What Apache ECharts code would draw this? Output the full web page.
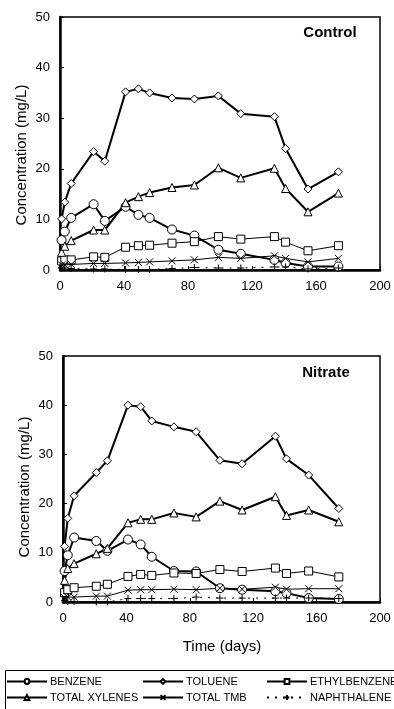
<!DOCTYPE html>
<html>
<head>
<meta charset="utf-8">
<script src="https://cdn.jsdelivr.net/npm/echarts@6/dist/echarts.min.js"></script>
<style>
  html, body { margin: 0; padding: 0; background: #fff; }
  #chart { width: 394px; height: 709px; }
</style>
</head>
<body>
<div id="chart"></div>
<script>
// sampling days (same for both columns)
var days = [1, 3, 7, 21, 28, 41, 49, 56, 70, 84, 99, 113, 134, 141, 155, 174];

// Control
var benzeneControl = [5.9, 7.6, 10.3, 13.0, 9.7, 12.5, 10.9, 10.3, 8.0, 6.8, 4.0, 3.2, 2.0, 1.4, 0.7, 0.7];
var tolueneControl = [10.1, 13.4, 17.1, 23.4, 21.5, 35.2, 35.8, 35.0, 34.0, 33.8, 34.4, 30.9, 30.3, 24.0, 16.0, 19.4];
var ethylControl = [1.8, 2.0, 2.0, 2.6, 2.5, 4.5, 4.8, 4.9, 5.3, 5.6, 6.6, 6.1, 6.6, 5.5, 3.8, 4.8];
var xylenesControl = [3.5, 4.7, 5.8, 7.9, 7.9, 13.3, 14.5, 15.3, 16.3, 16.8, 20.2, 18.2, 20.1, 16.1, 11.5, 15.2];
var tmbControl = [1.0, 1.0, 1.1, 1.3, 1.3, 1.4, 1.5, 1.6, 1.8, 2.0, 2.5, 2.3, 2.8, 2.3, 1.6, 2.3];
var naphControl = [0.4, 0.4, 0.3, 0.2, 0.2, 0.1, 0.1, 0.1, 0.3, 0.5, 0.4, 0.4, 0.6, 0.6, 0.2, 0.4];

// Nitrate
var benzeneNitrate = [6.3, 9.5, 13.1, 12.4, 10.4, 12.7, 11.7, 9.2, 6.3, 6.2, 2.8, 2.5, 2.2, 1.8, 0.8, 0.6];
var tolueneNitrate = [11.3, 17.0, 21.6, 26.3, 28.7, 40.0, 39.7, 36.8, 35.6, 34.6, 28.8, 28.1, 33.7, 29.1, 25.8, 19.0];
var ethylNitrate = [1.9, 2.5, 2.9, 3.2, 3.6, 5.2, 5.6, 5.4, 5.9, 5.8, 6.6, 6.2, 6.9, 5.8, 6.3, 5.1];
var xylenesNitrate = [4.4, 6.8, 7.8, 9.8, 10.9, 16.1, 16.8, 16.8, 18.1, 17.3, 20.5, 18.7, 21.4, 17.6, 18.7, 16.3];
var tmbNitrate = [0.9, 1.0, 1.0, 1.2, 1.2, 2.4, 2.5, 2.5, 2.6, 2.5, 2.8, 2.6, 3.0, 2.6, 2.7, 2.7];
var naphNitrate = [0.3, 0.1, 0.1, 0, 0, 0.7, 0.7, 0.7, 0.7, 1.0, 0.8, 0.8, 0.8, 0.8, 0.8, 0.7];

var xTicks = [0, 40, 80, 120, 160, 200];
var names = ['BENZENE', 'TOLUENE', 'ETHYLBENZENE', 'TOTAL XYLENES', 'TOTAL TMB', 'NAPHTHALENE'];

var font = 'Liberation Sans, Arial, sans-serif';
var chart = echarts.init(document.getElementById('chart'));

function pairs(vals) {
  return days.map(function (d, i) { return [d, vals[i]]; });
}

var looks = {
  'BENZENE': { symbol: 'circle', size: 9, width: 2, fill: '#fff', type: 'solid' },
  'TOLUENE': { symbol: 'diamond', size: 8, width: 2, fill: '#fff', type: 'solid' },
  'ETHYLBENZENE': { symbol: 'rect', size: 8, width: 1, fill: '#fff', type: 'solid' },
  'TOTAL XYLENES': { symbol: 'triangle', size: 8, width: 2, fill: '#fff', type: 'solid' },
  'TOTAL TMB': { symbol: 'path://M0,0L1,1M1,0L0,1', size: 7, width: 1, fill: '#000', type: 'solid' },
  'NAPHTHALENE': { symbol: 'path://M0.5,0L0.5,1M0,0.5L1,0.5', size: 7, width: 1, fill: '#000', type: [2, 6] }
};

function makeSeries(idx, sets) {
  return names.map(function (n, k) {
    var lk = looks[n];
    return {
      name: n,
      type: 'line',
      xAxisIndex: idx,
      yAxisIndex: idx,
      data: pairs(sets[k]),
      symbol: lk.symbol,
      symbolSize: lk.size,
      showAllSymbol: true,
      lineStyle: { color: '#000', width: lk.width, type: lk.type },
      itemStyle: { color: lk.fill, borderColor: '#000', borderWidth: 1 },
      z: 3
    };
  });
}

function xAxis(idx) {
  return {
    type: 'value', gridIndex: idx, min: 0, max: 200, interval: 40,
    axisLine: { lineStyle: { color: '#000', width: 2.5 } },
    axisTick: { inside: true, length: 4, lineStyle: { color: '#000', width: 1 } },
    axisLabel: { color: '#000', fontSize: 13, fontFamily: font, margin: 10,
      formatter: function (v) { return xTicks.indexOf(v) >= 0 ? String(v) : ''; } },
    splitLine: { show: false }
  };
}

function yAxis(idx) {
  return {
    type: 'value', gridIndex: idx, min: 0, max: 50, interval: 10,
    axisLine: { show: true, lineStyle: { color: '#000', width: 2.5 } },
    axisTick: { show: true, inside: true, length: 4, lineStyle: { color: '#000', width: 1 } },
    axisLabel: { color: '#000', fontSize: 13, fontFamily: font, margin: 10 },
    splitLine: { show: false }
  };
}

var legends = [
  { name: 'BENZENE', left: 6, top: 676 },
  { name: 'TOLUENE', left: 142, top: 676 },
  { name: 'ETHYLBENZENE', left: 266, top: 676 },
  { name: 'TOTAL XYLENES', left: 6, top: 692 },
  { name: 'TOTAL TMB', left: 142, top: 692 },
  { name: 'NAPHTHALENE', left: 266, top: 692 }
].map(function (l) {
  return {
    data: [l.name], left: l.left, top: l.top, padding: 0,
    itemWidth: 40, itemHeight: 6, itemGap: 0,
    selectedMode: false,
    textStyle: { color: '#000', fontSize: 11, fontFamily: font, padding: [0, 0, 0, -2] }
  };
});

var option = {
  animation: false,
  backgroundColor: '#fff',
  grid: [
    { left: 60, top: 17, width: 320, height: 253, show: true, borderColor: '#000', borderWidth: 1.5, backgroundColor: 'transparent' },
    { left: 63, top: 356, width: 317, height: 246, show: true, borderColor: '#000', borderWidth: 1.5, backgroundColor: 'transparent' }
  ],
  xAxis: [xAxis(0), xAxis(1)],
  yAxis: [yAxis(0), yAxis(1)],
  legend: legends,
  series: makeSeries(0, [benzeneControl, tolueneControl, ethylControl, xylenesControl, tmbControl, naphControl])
    .concat(makeSeries(1, [benzeneNitrate, tolueneNitrate, ethylNitrate, xylenesNitrate, tmbNitrate, naphNitrate])),
  graphic: [
    { type: 'text', x: 22, y: 155, rotation: Math.PI / 2,
      style: { text: 'Concentration (mg/L)', fill: '#000', font: '15px ' + font, textAlign: 'center', textVerticalAlign: 'middle' } },
    { type: 'text', x: 25, y: 487, rotation: Math.PI / 2,
      style: { text: 'Concentration (mg/L)', fill: '#000', font: '15px ' + font, textAlign: 'center', textVerticalAlign: 'middle' } },
    { type: 'text', x: 330, y: 33,
      style: { text: 'Control', fill: '#000', font: 'bold 15px ' + font, textAlign: 'center', textVerticalAlign: 'middle' } },
    { type: 'text', x: 326, y: 373,
      style: { text: 'Nitrate', fill: '#000', font: 'bold 15px ' + font, textAlign: 'center', textVerticalAlign: 'middle' } },
    { type: 'text', x: 222, y: 647,
      style: { text: 'Time (days)', fill: '#000', font: '15px ' + font, textAlign: 'center', textVerticalAlign: 'middle' } },
    { type: 'rect', shape: { x: 5.5, y: 670.5, width: 400, height: 50 },
      style: { fill: 'none', stroke: '#000', lineWidth: 1 }, z: 0 }
  ]
};

chart.setOption(option);
</script>
</body>
</html>
